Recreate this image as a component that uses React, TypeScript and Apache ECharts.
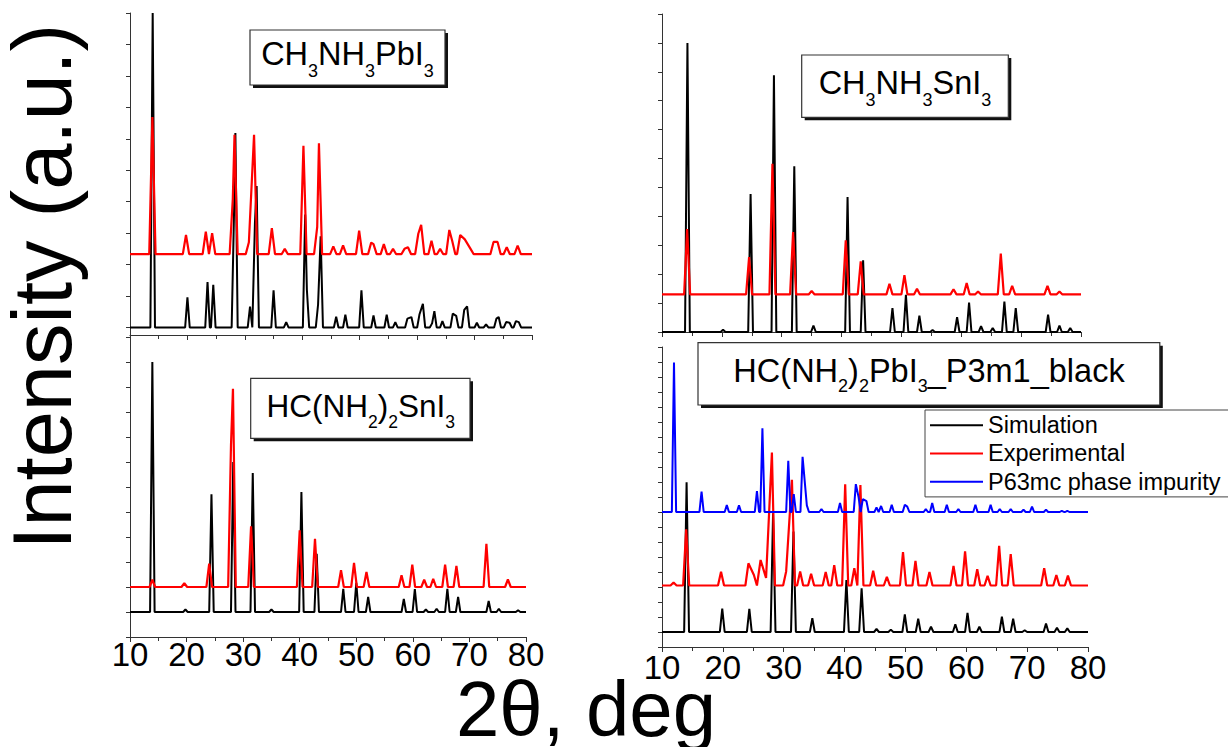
import React, { useEffect, useRef } from "react";
import * as echarts from "echarts";

const FONT = '"Liberation Sans", Arial, Helvetica, sans-serif';

// x-axis ticks (2θ, deg)
const xTickValues = [10, 20, 30, 40, 50, 60, 70, 80];

// Peak lists: [2θ position, peak top value]
type Peak = [number, number];

// Panel A: CH3NH3PbI3
const simBaseA = 0;
const simPeaksA: Peak[] = [
  [13.95, 10.0], [20.0, 0.96], [23.5, 1.44], [24.5, 1.36], [28.1, 3.5], [28.35, 6.18],
  [30.9, 0.66], [31.75, 3.3], [32.05, 4.5], [35.0, 1.18], [37.2, 0.17], [40.5, 3.59],
  [40.8, 1.2], [42.75, 0.73], [43.2, 2.9], [45.9, 0.34], [47.5, 0.41], [50.3, 1.18],
  [52.4, 0.38], [54.7, 0.41], [56.2, 0.17], [58.3, 0.28], [59.0, 0.33], [60.4, 0.41],
  [61.0, 0.75], [62.6, 0.13], [63.0, 0.52], [64.4, 0.2], [66.2, 0.44], [66.8, 0.37],
  [68.2, 0.56], [68.7, 0.67], [70.4, 0.15], [72.0, 0.1], [73.8, 0.28], [74.2, 0.33],
  [75.5, 0.17], [76.1, 0.15], [77.2, 0.2], [77.7, 0.17],
];
const expBaseA = 2.33;
const expPeaksA: Peak[] = [
  [13.9, 6.69], [19.75, 2.94], [23.2, 3.05], [24.3, 3.0], [27.9, 4.08], [28.2, 6.13],
  [30.7, 2.71], [31.6, 6.13], [34.7, 3.16], [36.95, 2.5], [40.2, 5.78], [42.6, 3.2],
  [42.9, 5.86], [45.4, 2.58], [47.1, 2.61], [49.9, 3.08], [52.0, 2.7], [52.4, 2.65],
  [54.2, 2.65], [55.8, 2.5], [57.8, 2.5], [58.4, 2.55], [60.2, 2.98], [60.7, 3.26],
  [62.5, 2.76], [64.0, 2.5], [65.6, 3.1], [66.1, 2.76], [67.5, 2.94], [68.3, 2.8],
  [69.3, 2.5], [73.3, 2.72], [74.0, 2.72], [75.6, 2.55], [77.5, 2.6],
];

// Panel B: CH3NH3SnI3
const simBaseB = 0;
const simPeaksB: Peak[] = [
  [14.25, 10.0], [20.2, 0.08], [24.8, 4.77], [28.7, 8.88], [32.1, 5.73], [35.3, 0.22],
  [41.0, 4.67], [43.6, 2.48], [48.5, 0.83], [50.75, 1.29], [53.0, 0.57], [55.2, 0.07],
  [59.3, 0.51], [61.3, 1.02], [63.3, 0.2], [65.25, 0.14], [67.2, 1.05], [69.1, 0.83],
  [74.5, 0.6], [76.4, 0.22], [78.2, 0.14],
];
const expBaseB = 1.3;
const expPeaksB: Peak[] = [
  [14.2, 3.56], [24.55, 2.59], [28.45, 5.82], [31.9, 3.46], [35.0, 1.42], [40.7, 3.17],
  [43.2, 2.44], [48.0, 1.67], [50.5, 1.97], [52.6, 1.5], [58.7, 1.48], [60.9, 1.69],
  [62.8, 1.4], [66.6, 2.71], [68.5, 1.6], [74.4, 1.6], [76.4, 1.4],
];

// Panel C: HC(NH2)2SnI3
const simBaseC = 0;
const simPeaksC: Peak[] = [
  [13.95, 10.0], [19.8, 0.1], [24.4, 4.71], [28.25, 6.0], [31.7, 5.56], [35.0, 0.1],
  [40.3, 4.8], [43.0, 2.33], [47.7, 0.93], [50.0, 1.17], [52.1, 0.6], [58.4, 0.52],
  [60.35, 0.92], [62.3, 0.1], [64.2, 0.13], [66.1, 0.93], [68.0, 0.6], [73.4, 0.44],
  [75.2, 0.13], [78.6, 0.07],
];
const expBaseC = 1.0;
const expPeaksC: Peak[] = [
  [13.95, 1.29], [19.6, 1.15], [24.0, 1.93], [27.85, 6.67], [28.2, 8.93], [31.4, 3.43],
  [40.0, 3.27], [42.7, 2.93], [47.3, 1.67], [49.6, 1.96], [51.8, 1.6], [58.0, 1.47],
  [59.9, 1.89], [62.0, 1.29], [63.6, 1.33], [65.7, 1.89], [67.7, 1.84], [73.0, 2.73],
  [76.8, 1.3],
];

// Panel D: HC(NH2)2PbI3_P3m1_black
const simBaseD = 0;
const simPeaksD: Peak[] = [
  [14.04, 4.99], [19.9, 0.78], [24.35, 0.77], [28.25, 3.96], [31.6, 3.35], [34.7, 0.46],
  [40.3, 1.73], [42.8, 1.46], [45.25, 0.1], [47.6, 0.08], [49.9, 0.59], [52.1, 0.44],
  [54.2, 0.18], [58.2, 0.26], [60.2, 0.64], [62.15, 0.18], [65.85, 0.51], [67.7, 0.44],
  [69.6, 0.06], [73.1, 0.28], [74.9, 0.14], [76.6, 0.12],
];
const expBaseD = 1.55;
const expPeaksD: Peak[] = [
  [11.9, 1.65], [13.97, 3.42], [19.7, 2.01], [24.2, 2.29], [25.1, 1.9], [26.2, 2.4],
  [27.1, 1.8], [28.06, 5.98], [30.4, 2.02], [31.35, 5.07], [32.7, 2.02], [34.5, 1.94],
  [36.9, 2.0], [38.3, 2.23], [40.1, 4.92], [41.6, 2.13], [42.6, 4.9], [44.7, 2.04],
  [46.95, 1.84], [49.6, 2.66], [51.65, 2.37], [53.95, 2.0], [57.9, 2.2], [59.8, 2.69],
  [61.8, 2.09], [63.5, 1.87], [65.4, 2.87], [67.3, 2.6], [72.8, 2.13], [74.8, 1.9],
  [76.7, 1.88],
];
const impBaseD = 4.0;
const impPeaksD: Peak[] = [
  [11.97, 8.98], [16.5, 4.68], [20.65, 4.23], [22.65, 4.22], [25.6, 4.7], [26.5, 6.79],
  [30.75, 5.71], [31.65, 4.6], [33.1, 5.84], [33.8, 4.22], [36.2, 4.1], [39.25, 4.3],
  [41.85, 4.93], [42.3, 4.5], [43.0, 4.43], [43.6, 4.36], [45.25, 4.15], [46.0, 4.2],
  [47.75, 4.24], [49.9, 4.24], [50.3, 4.18], [53.35, 4.1], [54.4, 4.3], [56.8, 4.24],
  [58.7, 4.1], [61.5, 4.24], [64.0, 4.24], [65.5, 4.1], [67.3, 4.1], [69.4, 4.08],
  [70.8, 4.18], [73.1, 4.08], [75.7, 4.04], [76.6, 4.04],
];

// Legend names
const seriesNames = ["Simulation", "Experimental", "P63mc phase impurity"];
const seriesColors = ["#000000", "#ff0000", "#0000ff"];

// Panel titles (text, isSubscript)
type Part = [string, boolean];
const titleA: Part[] = [["CH", false], ["3", true], ["NH", false], ["3", true], ["PbI", false], ["3", true]];
const titleB: Part[] = [["CH", false], ["3", true], ["NH", false], ["3", true], ["SnI", false], ["3", true]];
const titleC: Part[] = [["HC(NH", false], ["2", true], [")", false], ["2", true], ["SnI", false], ["3", true]];
const titleD: Part[] = [["HC(NH", false], ["2", true], [")", false], ["2", true], ["PbI", false], ["3", true], ["_P3m1_black", false]];

const yTitle = "Intensity (a.u.)";
const xTitle = "2θ, deg";

function trace(base: number, peaks: Peak[], w: number): number[][] {
  const pts: number[][] = [[10, base]];
  peaks.forEach(([x, top], i) => {
    const prev = peaks[i - 1];
    const next = peaks[i + 1];
    if (!prev || x - prev[0] >= 2 * w) pts.push([x - w, base]);
    pts.push([x, top]);
    if (!next || next[0] - x >= 2 * w) pts.push([x + w, base]);
  });
  pts.push([80, base]);
  return pts;
}

function formula(parts: Part[], cx: number, baseline: number, main: number, sub: number, drop: number) {
  const ctx = document.createElement("canvas").getContext("2d")!;
  const widths = parts.map(([t, s]) => {
    ctx.font = `${s ? sub : main}px ${FONT}`;
    return ctx.measureText(t).width;
  });
  const total = widths.reduce((a, b) => a + b, 0);
  let x = cx - total / 2;
  return parts.map(([t, s], i) => {
    const size = s ? sub : main;
    const bl = s ? baseline + drop : baseline;
    const el = {
      type: "text",
      x,
      y: bl - 0.33 * size,
      z: 102,
      silent: true,
      style: {
        text: t,
        font: `${size}px ${FONT}`,
        fill: "#000",
        align: "left",
        textAlign: "left",
        verticalAlign: "middle",
        textVerticalAlign: "middle",
      },
    };
    x += widths[i];
    return el;
  });
}

function box(x: number, y: number, w: number, h: number) {
  return [
    { type: "rect", z: 100, silent: true, shape: { x: x + 3, y: y + 3, width: w, height: h }, style: { fill: "#111" } },
    { type: "rect", z: 101, silent: true, shape: { x, y, width: w, height: h }, style: { fill: "#fff", stroke: "#333", lineWidth: 1.2 } },
  ];
}

function makeX(gridIndex: number, labels: boolean, margin: number) {
  return {
    type: "value",
    gridIndex,
    min: 10,
    max: 80,
    interval: 10,
    axisLine: { show: true, onZero: false, lineStyle: { color: "#333", width: 1 } },
    axisTick: { show: true, length: 5, lineStyle: { color: "#333" } },
    minorTick: { show: true, splitNumber: 2, length: 4, lineStyle: { color: "#333" } },
    splitLine: { show: false },
    axisLabel: {
      show: labels,
      customValues: xTickValues,
      showMinLabel: true,
      showMaxLabel: true,
      fontSize: 33,
      fontFamily: FONT,
      color: "#000",
      margin,
    },
  };
}

function makeY(gridIndex: number, min: number, max: number, ticks: number[]) {
  return {
    type: "value",
    gridIndex,
    min,
    max,
    axisLine: { show: true, onZero: false, lineStyle: { color: "#333", width: 1 } },
    axisTick: { show: true, length: 4, customValues: ticks, lineStyle: { color: "#333" } },
    axisLabel: { show: false },
    splitLine: { show: false },
  };
}

function range(a: number, b: number, step: number) {
  const out: number[] = [];
  for (let i = 0; a + i * step <= b + 1e-9; i++) out.push(+(a + i * step).toFixed(3));
  return out;
}

function line(name: number, grid: number, data: number[][], width = 2) {
  return {
    type: "line",
    name: seriesNames[name],
    xAxisIndex: grid,
    yAxisIndex: grid,
    data,
    symbol: "none",
    showSymbol: false,
    silent: true,
    clip: true,
    color: seriesColors[name],
    lineStyle: { color: seriesColors[name], width },
    z: 2 + name,
  };
}

export default function App() {
  const ref = useRef<HTMLDivElement>(null);
  useEffect(() => {
    if (!ref.current) return;
    const chart = echarts.init(ref.current, undefined, { renderer: "svg" });
    const option = {
      animation: false,
      backgroundColor: "#fff",
      grid: [
        { left: 130, top: 13, width: 402, height: 322 },
        { left: 662, top: 14, width: 419, height: 318 },
        { left: 130, top: 337, width: 396, height: 300 },
        { left: 662, top: 347, width: 426, height: 300 },
      ],
      xAxis: [makeX(0, false, 2), makeX(1, false, 2), makeX(2, true, 1), makeX(3, true, 4)],
      yAxis: [
        makeY(0, -0.24, 10, range(0, 10, 1)),
        makeY(1, 0, 11, range(0, 11, 1)),
        makeY(2, -1, 11, range(-1, 11, 1)),
        makeY(3, -0.5, 9.5, range(-0.5, 9.5, 0.5)),
      ],
      legend: {
        data: seriesNames,
        orient: "vertical",
        left: 925,
        top: 410,
        padding: [1, 400, 1, 5],
        itemGap: 0,
        itemWidth: 53,
        itemHeight: 2,
        icon: "rect",
        selectedMode: false,
        backgroundColor: "#fff",
        borderColor: "#444",
        borderWidth: 1,
        borderRadius: 0,
        textStyle: { fontSize: 23.5, fontFamily: FONT, color: "#000", lineHeight: 28.3 },
      },
      series: [
        line(0, 0, trace(simBaseA, simPeaksA, 0.4)),
        line(1, 0, trace(expBaseA, expPeaksA, 0.55), 2.2),
        line(0, 1, trace(simBaseB, simPeaksB, 0.4)),
        line(1, 1, trace(expBaseB, expPeaksB, 0.5), 2.2),
        line(0, 2, trace(simBaseC, simPeaksC, 0.4)),
        line(1, 2, trace(expBaseC, expPeaksC, 0.5), 2.2),
        line(0, 3, trace(simBaseD, simPeaksD, 0.4)),
        line(1, 3, trace(expBaseD, expPeaksD, 0.5), 2.2),
        line(2, 3, trace(impBaseD, impPeaksD, 0.35)),
      ],
      graphic: [
        ...box(250, 30, 195, 55),
        ...formula(titleA, 347.5, 65, 32.5, 18, 12.3),
        ...box(801.7, 55, 206.6, 62.3),
        ...formula(titleB, 905, 93.3, 32.5, 18, 12.7),
        ...box(250.7, 378.3, 219.3, 60),
        ...formula(titleC, 360.8, 416, 31.5, 17.5, 11.3),
        ...box(698, 342.7, 461.8, 62.3),
        ...formula(titleD, 929, 381.7, 32.5, 18, 10),
        {
          type: "text",
          x: 42.6,
          y: 286.7,
          rotation: Math.PI / 2,
          z: 102,
          silent: true,
          style: {
            text: yTitle,
            font: `83px ${FONT}`,
            lineHeight: 66,
            fill: "#000",
            align: "center",
            textAlign: "center",
            verticalAlign: "middle",
            textVerticalAlign: "middle",
          },
        },
        {
          type: "text",
          x: 586,
          y: 709,
          z: 102,
          silent: true,
          style: {
            text: xTitle,
            font: `78px ${FONT}`,
            lineHeight: 56,
            fill: "#000",
            align: "center",
            textAlign: "center",
            verticalAlign: "middle",
            textVerticalAlign: "middle",
          },
        },
      ],
    };
    chart.setOption(option as any);
    return () => chart.dispose();
  }, []);
  return (
    <div
      ref={ref}
      style={{ position: "fixed", left: 0, top: 0, width: 1228, height: 747, overflow: "hidden" }}
    />
  );
}
